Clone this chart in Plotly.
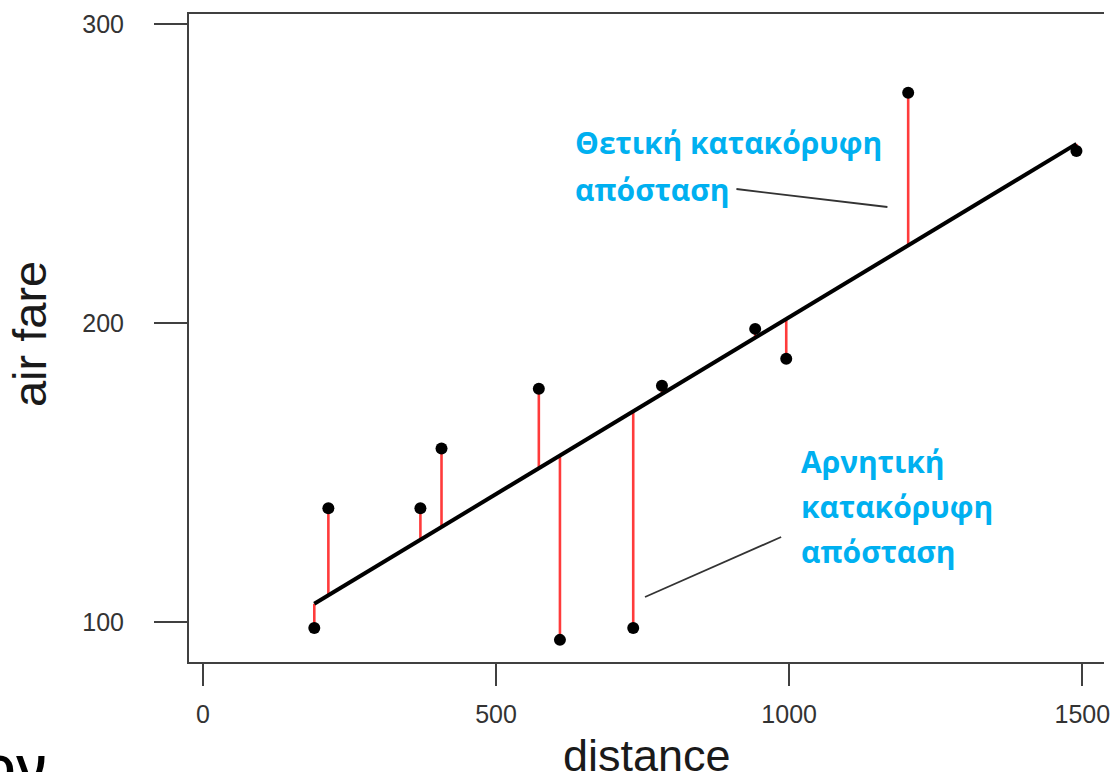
import plotly.graph_objects as go

# ---- data ----
distance = [190, 214, 371, 407, 573, 609, 734, 783, 942, 995, 1203, 1490]
air_fare = [98, 138, 138, 158, 178, 94, 98, 179, 198, 188, 277, 257.5]
fit_intercept = 83.6
fit_slope = 0.1183
x_ticks = [0, 500, 1000, 1500]
y_ticks = [100, 200, 300]

fitted = [fit_intercept + fit_slope * d for d in distance]

W, H = 1116, 772
L, R, T, B = 189, 6, 14, 110
PW, PH = W - L - R, H - T - B


def px(x):
    return (x - L) / PW


def py(y):
    return (H - B - y) / PH


fig = go.Figure()

rx, ry = [], []
for d, a, f in zip(distance, air_fare, fitted):
    rx += [d, d, None]
    ry += [a, f, None]
fig.add_trace(go.Scatter(x=rx, y=ry, mode="lines",
                         line=dict(color="#ff3b3b", width=2.6), hoverinfo="skip"))
fig.add_trace(go.Scatter(x=[distance[0], distance[-1]], y=[fitted[0], fitted[-1]],
                         mode="lines", line=dict(color="black", width=4)))
fig.add_trace(go.Scatter(x=distance, y=air_fare, mode="markers",
                         marker=dict(color="black", size=12)))

axis_common = dict(showline=True, linecolor="#404040", linewidth=2,
                   ticks="outside", tickwidth=2, tickcolor="#404040",
                   showgrid=False, zeroline=False,
                   tickfont=dict(family="Liberation Sans", size=25, color="#333333"))

fig.update_layout(
    width=W, height=H, margin=dict(l=L, r=R, t=T, b=B),
    paper_bgcolor="white", plot_bgcolor="white", showlegend=False,
    xaxis=dict(range=[-23.7, 1537], tickvals=x_ticks, ticklen=22, mirror=True,
               ticklabelstandoff=7, **axis_common),
    yaxis=dict(range=[86.6, 303.3], tickvals=y_ticks, ticklen=33, mirror=False,
               ticklabelstandoff=25, **axis_common),
)

blue = "#00b0f0"
gfont = dict(family="Open Sans", size=30, color=blue, weight="bold")
texts = [
    ("Θετική κατακόρυφη", 576, 142),
    ("απόσταση", 576, 189),
    ("Αρνητική", 803, 461),
    ("κατακόρυφη", 803, 507),
    ("απόσταση", 803, 551),
]
for t, x, y in texts:
    fig.add_annotation(text=t, x=px(x), y=py(y), xref="paper", yref="paper",
                       xanchor="left", yanchor="middle", showarrow=False, font=gfont)

# axis titles
fig.add_annotation(text="distance", x=px(650), y=py(755), xref="paper", yref="paper",
                   xanchor="center", yanchor="middle", showarrow=False,
                   font=dict(family="Liberation Sans", size=45, color="#1a1a1a"))
fig.add_annotation(text="air fare", x=px(28), y=py(334), xref="paper", yref="paper",
                   xanchor="center", yanchor="middle", showarrow=False, textangle=-90,
                   font=dict(family="Liberation Sans", size=47, color="#1a1a1a"))
# clipped slide text at bottom-left
fig.add_annotation(text="ον", x=px(48), y=py(764), xref="paper", yref="paper",
                   xanchor="right", yanchor="middle", showarrow=False,
                   font=dict(family="Open Sans", size=54, color="black", weight=600))

# leader lines
for x0, y0, x1, y1 in [(740, 189, 892, 207), (648, 597, 785, 537)]:
    fig.add_shape(type="line", xref="paper", yref="paper",
                  x0=px(x0), y0=py(y0), x1=px(x1), y1=py(y1),
                  line=dict(color="#333333", width=1.8))

fig.write_html("out.html")
